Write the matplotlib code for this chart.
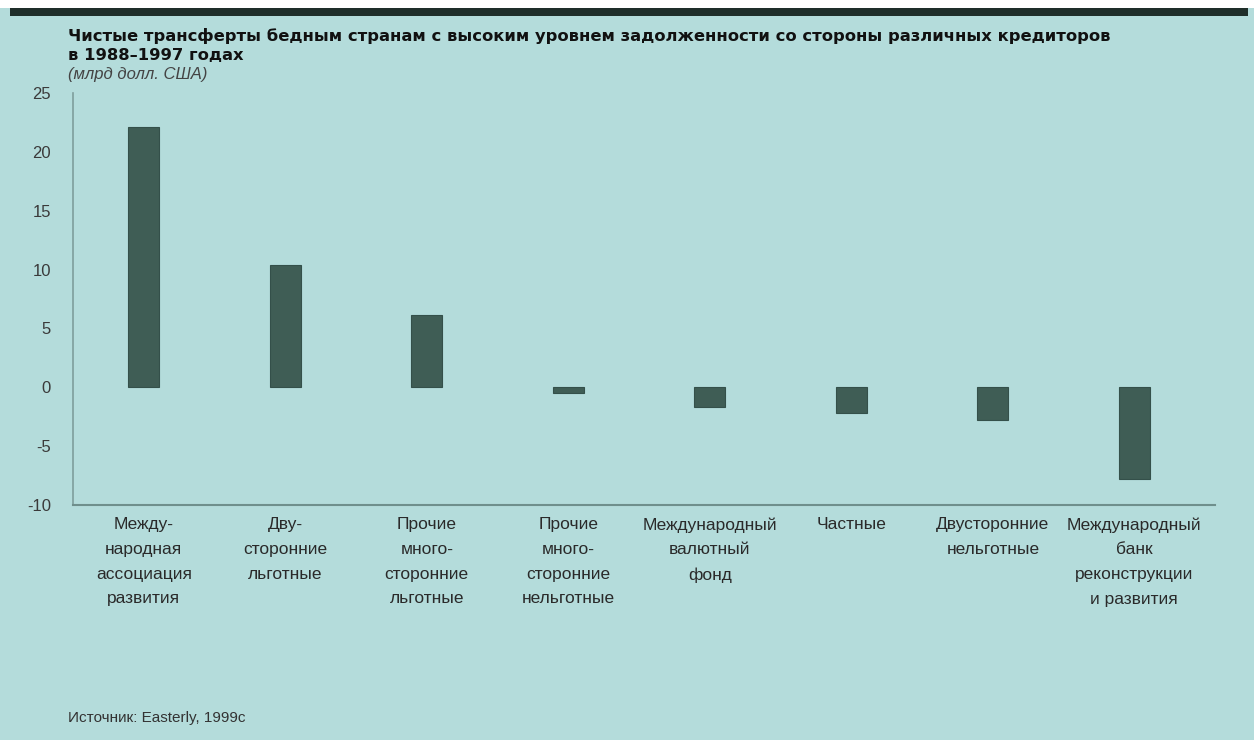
import matplotlib.pyplot as plt
from matplotlib.patches import Rectangle
from matplotlib.ticker import FuncFormatter

# Данные
kreditory = [
    'Между-\nнародная\nассоциация\nразвития',
    'Дву-\nсторонние\nльготные',
    'Прочие\nмного-\nсторонние\nльготные',
    'Прочие\nмного-\nсторонние\nнельготные',
    'Международный\nвалютный\nфонд',
    'Частные',
    'Двусторонние\nнельготные',
    'Международный\nбанк\nреконструкции\nи развития',
]
transferty = [22.1, 10.4, 6.1, -0.5, -1.7, -2.2, -2.8, -7.8]
y_ticks = [25, 20, 15, 10, 5, 0, -5, -10]

fon = '#b4dcdb'
cvet_stolbca = '#3f5d55'

W, H = 1254, 740
fig = plt.figure(figsize=(W / 100, H / 100), dpi=100, facecolor=fon)

# верхняя белая полоса и темная линия
fig.patches.append(Rectangle((0, 1 - 8 / H), 1, 8 / H, transform=fig.transFigure,
                             facecolor='white', edgecolor='none', zorder=0))
fig.patches.append(Rectangle((10 / W, 1 - 16 / H), 1238 / W, 8 / H, transform=fig.transFigure,
                             facecolor='#1f2e2a', edgecolor='none', zorder=0))

ax = fig.add_axes([73 / W, 1 - 505 / H, (1215 - 73) / W, (505 - 93) / H])
ax.set_facecolor(fon)

x = list(range(len(kreditory)))
ax.bar(x, transferty, width=0.22, color=cvet_stolbca, edgecolor='#34504a', linewidth=0.8)

ax.set_xlim(-0.5, 7.57)
ax.set_ylim(-10, 25)
ax.set_yticks(y_ticks)
ax.yaxis.set_major_formatter(FuncFormatter(lambda v, p: f'{int(v)}'))
ax.tick_params(axis='y', length=0, pad=16, labelcolor='#3a3a3a')
for lbl in ax.get_yticklabels():
    lbl.set_family('Liberation Sans')
    lbl.set_fontsize(12)
ax.set_xticks([])

for s in ['top', 'right']:
    ax.spines[s].set_visible(False)
ax.spines['left'].set_color('#7f9e9c')
ax.spines['bottom'].set_color('#6f8f8c')
ax.spines['left'].set_linewidth(1.2)
ax.spines['bottom'].set_linewidth(1.5)

for xi, nazv in zip(x, kreditory):
    ax.text(xi, -0.03, nazv, transform=ax.get_xaxis_transform(), ha='center', va='top',
            fontsize=12.5, family='Liberation Sans', color='#2a2a2a', linespacing=1.8)

fig.text(68 / W, 1 - 36 / H, 'Чистые трансферты бедным странам с высоким уровнем задолженности со стороны различных кредиторов',
         fontsize=11.8, fontweight='bold', color='#111111', va='center', ha='left')
fig.text(68 / W, 1 - 56 / H, 'в 1988–1997 годах',
         fontsize=11.8, fontweight='bold', color='#111111', va='center', ha='left')
fig.text(68 / W, 1 - 75 / H, '(млрд долл. США)',
         fontsize=12, style='italic', family='Liberation Sans', color='#444444', va='center', ha='left')
fig.text(68 / W, 1 - 718 / H, 'Источник: Easterly, 1999c',
         fontsize=11, family='Liberation Sans', color='#333333', va='center', ha='left')

fig.savefig('out.png', dpi=100, facecolor=fon)
